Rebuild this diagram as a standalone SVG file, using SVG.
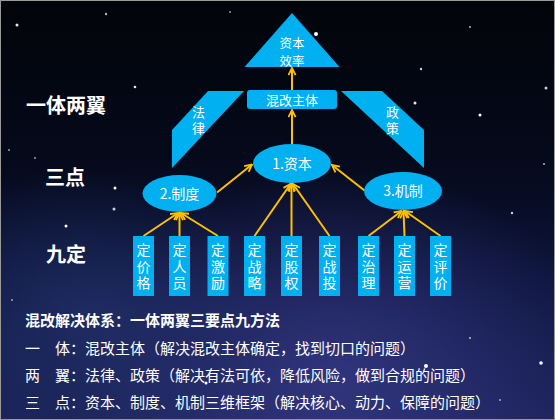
<svg xmlns="http://www.w3.org/2000/svg" width="555" height="420" viewBox="0 0 555 420">
<defs>
<linearGradient id="bg" x1="0" y1="0" x2="0" y2="1">
<stop offset="0" stop-color="#020409"/>
<stop offset="0.4" stop-color="#050a1c"/>
<stop offset="0.7" stop-color="#0e1640"/>
<stop offset="1" stop-color="#1a2258"/>
</linearGradient>
<radialGradient id="neb1" cx="0.6" cy="0.9" r="0.5">
<stop offset="0" stop-color="#3a3c8c" stop-opacity="0.75"/>
<stop offset="1" stop-color="#3a3c8c" stop-opacity="0"/>
</radialGradient>
<radialGradient id="neb2" cx="0.15" cy="0.75" r="0.35">
<stop offset="0" stop-color="#24346e" stop-opacity="0.7"/>
<stop offset="1" stop-color="#24346e" stop-opacity="0"/>
</radialGradient>
<marker id="arr" viewBox="0 0 10 10" refX="9" refY="5" markerWidth="9" markerHeight="9" markerUnits="userSpaceOnUse" orient="auto">
<path d="M1,1 L9,5 L1,9" fill="none" stroke="#FFC000" stroke-width="2"/>
</marker>
</defs>
<style>
.shape{fill:#00B0F0}
.lbl{font-family:"Noto Sans CJK SC","Liberation Sans",sans-serif;fill:#ffffff}
.vert{font-family:"Noto Sans CJK SC",sans-serif;fill:#ffffff;font-size:14px;writing-mode:vertical-rl;letter-spacing:2.5px}
.vwing{font-family:"Noto Sans CJK SC",sans-serif;fill:#ffffff;font-size:13px;writing-mode:vertical-rl;letter-spacing:3.5px}
.side{font-family:"Noto Sans CJK SC",sans-serif;fill:#ffffff;font-size:20px;font-weight:bold}
.body{font-family:"Noto Sans CJK SC",sans-serif;fill:#ffffff;font-size:15px}
.con{stroke:#FFC000;stroke-width:2;fill:none;marker-end:url(#arr)}
.star{fill:#ffffff}
</style>
<rect width="555" height="420" fill="url(#bg)"/>
<rect width="555" height="420" fill="url(#neb1)"/>
<rect width="555" height="420" fill="url(#neb2)"/>
<g id="stars">
<circle class="star" cx="17" cy="25" r="1.5" fill-opacity="0.9"/>
<circle class="star" cx="106" cy="14" r="1.2" fill-opacity="0.7"/>
<circle class="star" cx="316" cy="34" r="2" />
<circle class="star" cx="415" cy="103" r="1.5" fill-opacity="0.9"/>
<circle class="star" cx="480" cy="115" r="1.5"/>
<circle class="star" cx="546" cy="88" r="1.5" fill-opacity="0.8"/>
<circle class="star" cx="421" cy="69" r="1.2" fill-opacity="0.8"/>
<circle class="star" cx="135" cy="87" r="1.3" fill-opacity="0.9"/>
<circle class="star" cx="115" cy="188" r="1.5"/>
<circle class="star" cx="66" cy="226" r="1.5"/>
<circle class="star" cx="114" cy="209" r="1.5" fill-opacity="0.8"/>
<circle class="star" cx="512" cy="213" r="1.2" fill-opacity="0.8"/>
<circle class="star" cx="544" cy="164" r="1" fill-opacity="0.7"/>
<circle class="star" cx="470" cy="27" r="1" fill-opacity="0.7"/>
<circle class="star" cx="230" cy="12" r="1" fill-opacity="0.6"/>
<circle class="star" cx="9" cy="150" r="1" fill-opacity="0.6"/>
<circle class="star" cx="35" cy="158" r="1" fill-opacity="0.6"/>
<circle class="star" cx="426" cy="366" r="2" fill="#f0d8ff"/>
<circle class="star" cx="541" cy="363" r="1.8" fill="#9fe8ff"/>
<circle class="star" cx="206" cy="383" r="1.5" fill="#9fe8ff"/>
<circle class="star" cx="470" cy="338" r="1" fill-opacity="0.7"/>
<circle class="star" cx="300" cy="355" r="1" fill-opacity="0.6"/>
<circle class="star" cx="500" cy="400" r="1" fill-opacity="0.6"/>
<circle class="star" cx="12" cy="300" r="1" fill-opacity="0.6"/>
</g>
<g id="connectors">
<line class="con" x1="292" y1="90" x2="292" y2="68"/>
<line class="con" x1="292" y1="144" x2="292" y2="110"/>
<line class="con" x1="217" y1="192.5" x2="252" y2="164.5"/>
<line class="con" x1="364.5" y1="190.5" x2="332" y2="165"/>
<line class="con" x1="143.5" y1="236" x2="178" y2="213"/>
<line class="con" x1="179.5" y1="236" x2="179.5" y2="213"/>
<line class="con" x1="218" y1="236" x2="181" y2="213"/>
<line class="con" x1="254.5" y1="236" x2="290.5" y2="184"/>
<line class="con" x1="291.5" y1="236" x2="291.5" y2="184"/>
<line class="con" x1="329.5" y1="236" x2="293" y2="184"/>
<line class="con" x1="368.5" y1="236" x2="401.5" y2="211"/>
<line class="con" x1="404.5" y1="236" x2="403.5" y2="211"/>
<line class="con" x1="440.5" y1="236" x2="405" y2="211"/>
</g>
<g id="n-efficiency">
<polygon class="shape" points="292,13 244.5,67 339.5,67"/>
<text class="lbl" font-size="12.5" text-anchor="middle" x="292" y="47.5">资本</text>
<text class="lbl" font-size="12.5" text-anchor="middle" x="292" y="66">效率</text>
</g>
<g id="n-subject">
<rect class="shape" x="247" y="90" width="90" height="19" rx="3"/>
<text class="lbl" font-size="13" text-anchor="middle" x="292" y="104.5">混改主体</text>
</g>
<g id="n-law">
<polygon class="shape" points="208,91 244,91 172,168 172,130"/>
<text class="vwing" x="198.5" y="105.5">法律</text>
</g>
<g id="n-policy">
<polygon class="shape" points="341,91 382,91 424,130 424,168"/>
<text class="vwing" x="392.5" y="105.5">政策</text>
</g>
<g id="n-capital">
<ellipse class="shape" cx="292" cy="163.5" rx="39" ry="19.5"/>
<text class="lbl" font-size="14" text-anchor="middle" x="292" y="168.5">1.资本</text>
</g>
<g id="n-system">
<ellipse class="shape" cx="179.5" cy="193.5" rx="37" ry="18.5"/>
<text class="lbl" font-size="14" text-anchor="middle" x="179.5" y="198.5">2.制度</text>
</g>
<g id="n-mechanism">
<ellipse class="shape" cx="403" cy="191" rx="39" ry="19"/>
<text class="lbl" font-size="14" text-anchor="middle" x="403" y="196">3.机制</text>
</g>
<g id="n-b1"><rect class="shape" x="133" y="236" width="21" height="60"/><text class="vert" x="143.5" y="243">定价格</text></g>
<g id="n-b2"><rect class="shape" x="169" y="236" width="21" height="60"/><text class="vert" x="179.5" y="243">定人员</text></g>
<g id="n-b3"><rect class="shape" x="207.5" y="236" width="21" height="60"/><text class="vert" x="218" y="243">定激励</text></g>
<g id="n-b4"><rect class="shape" x="244" y="236" width="21" height="60"/><text class="vert" x="254.5" y="243">定战略</text></g>
<g id="n-b5"><rect class="shape" x="281" y="236" width="21" height="60"/><text class="vert" x="291.5" y="243">定股权</text></g>
<g id="n-b6"><rect class="shape" x="319" y="236" width="21" height="60"/><text class="vert" x="329.5" y="243">定战投</text></g>
<g id="n-b7"><rect class="shape" x="358" y="236" width="21" height="60"/><text class="vert" x="368.5" y="243">定治理</text></g>
<g id="n-b8"><rect class="shape" x="394" y="236" width="21" height="60"/><text class="vert" x="404.5" y="243">定运营</text></g>
<g id="n-b9"><rect class="shape" x="430" y="236" width="21" height="60"/><text class="vert" x="440.5" y="243">定评价</text></g>
<g id="side-labels">
<text class="side" x="26" y="113">一体两翼</text>
<text class="side" x="45" y="185">三点</text>
<text class="side" x="46" y="262">九定</text>
</g>
<g id="summary">
<text class="body" x="25" y="325.5" font-weight="bold">混改解决体系：一体两翼三要点九方法</text>
<text class="body" y="353.5"><tspan x="25">一</tspan><tspan x="55">体：混改主体（解决混改主体确定，找到切口的问题）</tspan></text>
<text class="body" y="380.5"><tspan x="25">两</tspan><tspan x="55">翼：法律、政策（解决有法可依，降低风险，做到合规的问题）</tspan></text>
<text class="body" y="407.5"><tspan x="25">三</tspan><tspan x="55">点：资本、制度、机制三维框架（解决核心、动力、保障的问题）</tspan></text>
</g>
<rect x="0.5" y="0.5" width="554" height="419" fill="none" stroke="#9a9a9a" stroke-width="1"/>
</svg>
